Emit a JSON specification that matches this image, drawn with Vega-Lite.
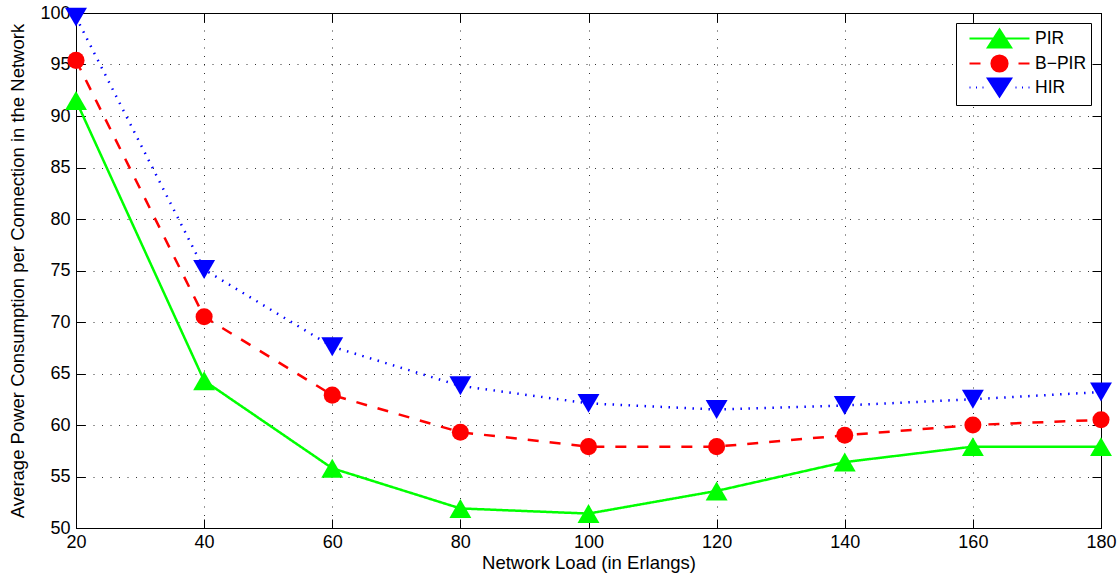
{
  "$schema": "https://vega.github.io/schema/vega-lite/v6.json",
  "autosize": {"type": "none"},
  "padding": {"left": 76, "top": 13, "right": 17, "bottom": 47},
  "width": 1025,
  "height": 515,
  "background": "white",
  "config": {
    "font": "Liberation Sans",
    "view": {"stroke": "black", "strokeWidth": 1},
    "legend": {"symbolFillColor": "black"},
    "axis": {
      "labelFont": "Liberation Sans",
      "titleFont": "Liberation Sans",
      "labelFontSize": 18,
      "titleFontSize": 18.5,
      "titleFontWeight": "normal",
      "labelColor": "black",
      "titleColor": "black",
      "domainColor": "black",
      "tickColor": "black",
      "tickWidth": 1,
      "gridColor": "black",
      "gridDash": [1, 7.5],
      "gridOpacity": 0.8,
      "gridWidth": 1,
      "labelFlush": false
    }
  },
  "data": {
    "values": [
      {"load": 20, "power": 91.5, "series": "PIR"},
      {"load": 40, "power": 64.3, "series": "PIR"},
      {"load": 60, "power": 55.8, "series": "PIR"},
      {"load": 80, "power": 51.9, "series": "PIR"},
      {"load": 100, "power": 51.4, "series": "PIR"},
      {"load": 120, "power": 53.6, "series": "PIR"},
      {"load": 140, "power": 56.4, "series": "PIR"},
      {"load": 160, "power": 57.9, "series": "PIR"},
      {"load": 180, "power": 57.9, "series": "PIR"},
      {"load": 20, "power": 95.4, "series": "B−PIR"},
      {"load": 40, "power": 70.5, "series": "B−PIR"},
      {"load": 60, "power": 62.9, "series": "B−PIR"},
      {"load": 80, "power": 59.3, "series": "B−PIR"},
      {"load": 100, "power": 57.9, "series": "B−PIR"},
      {"load": 120, "power": 57.9, "series": "B−PIR"},
      {"load": 140, "power": 59.0, "series": "B−PIR"},
      {"load": 160, "power": 60.0, "series": "B−PIR"},
      {"load": 180, "power": 60.5, "series": "B−PIR"},
      {"load": 20, "power": 99.6, "series": "HIR"},
      {"load": 40, "power": 75.1, "series": "HIR"},
      {"load": 60, "power": 67.6, "series": "HIR"},
      {"load": 80, "power": 63.8, "series": "HIR"},
      {"load": 100, "power": 62.1, "series": "HIR"},
      {"load": 120, "power": 61.5, "series": "HIR"},
      {"load": 140, "power": 61.9, "series": "HIR"},
      {"load": 160, "power": 62.5, "series": "HIR"},
      {"load": 180, "power": 63.2, "series": "HIR"}
    ]
  },
  "resolve": {
    "axis": {"x": "independent", "y": "independent"}
  },
  "layer": [
    {
      "mark": {"type": "line", "strokeWidth": 2.5, "clip": false},
      "encoding": {
        "x": {
          "field": "load", "type": "quantitative",
          "scale": {"domain": [20, 180], "nice": false, "zero": false},
          "axis": {
            "orient": "bottom",
            "title": "Network Load (in Erlangs)",
            "values": [20, 40, 60, 80, 100, 120, 140, 160, 180],
            "tickSize": -9,
            "labelPadding": 14,
            "titlePadding": 2,
            "grid": true
          }
        },
        "y": {
          "field": "power", "type": "quantitative",
          "scale": {"domain": [50, 100], "nice": false, "zero": false},
          "axis": {
            "orient": "left",
            "title": "Average Power Consumption per Connection in the Network",
            "values": [50, 55, 60, 65, 70, 75, 80, 85, 90, 95, 100],
            "tickSize": -9,
            "labelPadding": 15,
            "titlePadding": 12,
            "grid": true
          }
        },
        "color": {
          "field": "series", "type": "nominal",
          "scale": {"domain": ["HIR", "B−PIR", "PIR"], "range": ["#0000ff", "#ff0000", "#00ff00"]},
          "legend": null
        },
        "strokeDash": {
          "field": "series", "type": "nominal",
          "scale": {"domain": ["HIR", "B−PIR", "PIR"], "range": [[1.5, 6.5], [11, 11], [1, 0]]},
          "legend": null
        },
        "order": {"field": "load", "type": "quantitative"}
      }
    },
    {
      "transform": [{"filter": "datum.series === 'PIR'"}],
      "mark": {"type": "point", "filled": true, "opacity": 1, "clip": false, "shape": "triangle-up", "size": 480, "color": "#00ff00"},
      "encoding": {
        "x": {"field": "load", "type": "quantitative", "axis": null},
        "y": {"field": "power", "type": "quantitative", "axis": null}
      }
    },
    {
      "transform": [{"filter": "datum.series === 'B−PIR'"}],
      "mark": {"type": "point", "filled": true, "opacity": 1, "clip": false, "shape": "circle", "size": 290, "color": "#ff0000"},
      "encoding": {
        "x": {"field": "load", "type": "quantitative", "axis": null},
        "y": {"field": "power", "type": "quantitative", "axis": null}
      }
    },
    {
      "transform": [{"filter": "datum.series === 'HIR'"}],
      "mark": {"type": "point", "filled": true, "opacity": 1, "clip": false, "shape": "triangle-down", "size": 480, "color": "#0000ff"},
      "encoding": {
        "x": {"field": "load", "type": "quantitative", "axis": null},
        "y": {"field": "power", "type": "quantitative", "axis": null}
      }
    },
    {
      "mark": {"type": "point", "filled": true, "opacity": 0, "fillOpacity": 1, "strokeOpacity": 1, "size": 400, "strokeWidth": 2.2},
      "encoding": {
        "x": {
          "field": "load", "type": "quantitative",
          "axis": {"orient": "top", "labels": false, "title": null, "grid": false,
                   "values": [20, 40, 60, 80, 100, 120, 140, 160, 180], "tickSize": -9}
        },
        "y": {
          "field": "power", "type": "quantitative",
          "axis": {"orient": "right", "labels": false, "title": null, "grid": false,
                   "values": [50, 55, 60, 65, 70, 75, 80, 85, 90, 95, 100], "tickSize": -9}
        },
        "fill": {
          "field": "series", "type": "nominal",
          "scale": {"domain": ["PIR", "B−PIR", "HIR"], "range": ["#00ff00", "#ff0000", "#0000ff"]},
          "legend": {
            "title": null,
            "orient": "top-right",
            "offset": 10,
            "padding": 4,
            "strokeColor": "black",
            "fillColor": "white",
            "cornerRadius": 0,
            "symbolSize": 400,
            "symbolOpacity": 1,
            "symbolFillColor": "black",
            "symbolStrokeWidth": 2.2,
            "symbolOffset": 28,
            "labelOffset": 24,
            "labelFont": "Liberation Sans",
            "labelFontSize": 17.5,
            "labelColor": "black",
            "rowPadding": -2
          }
        },
        "stroke": {
          "field": "series", "type": "nominal",
          "scale": {"domain": ["PIR", "B−PIR", "HIR"], "range": ["#00ff00", "#ff0000", "#0000ff"]}
        },
        "shape": {
          "field": "series", "type": "nominal",
          "scale": {
            "domain": ["PIR", "B−PIR", "HIR"],
            "range": [
              "M-3,0H3M0,-0.9L-1.15,0.9L1.15,0.9Z",
              "M-3,0H-1.9M1.9,0H3M-0.8,0A0.8,0.8,0,1,1,0.8,0A0.8,0.8,0,1,1,-0.8,0Z",
              "M-3,0H-2.9M-2.35,0H-2.25M-1.7,0H-1.6M1.6,0H1.7M2.25,0H2.35M2.9,0H3M0,0.9L-1.15,-0.9L1.15,-0.9Z"
            ]
          }
        }
      }
    }
  ]
}
